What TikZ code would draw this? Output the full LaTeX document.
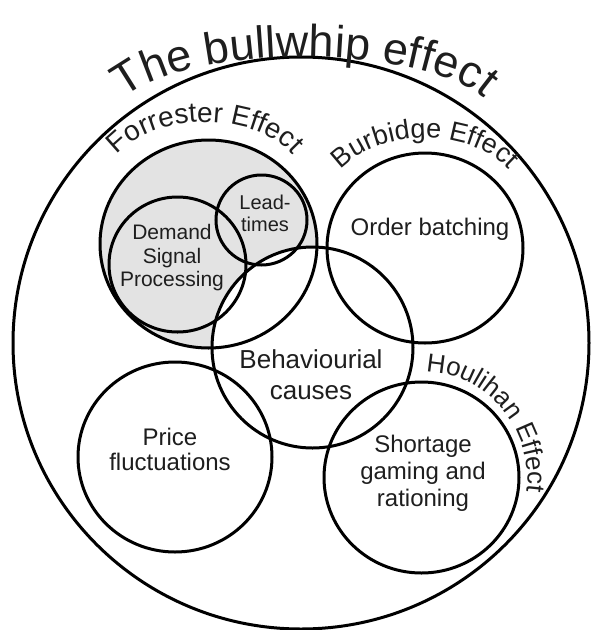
\documentclass[tikz,border=0pt]{standalone}
\usepackage{fontspec}
\setmainfont{Liberation Sans}
\usetikzlibrary{decorations.text}
\definecolor{fillgray}{HTML}{E3E3E3}
\definecolor{ink}{HTML}{1E1E1E}
\begin{document}
\begin{tikzpicture}[x=1pt,y=1pt,
  ring/.style={draw=black, line width=3pt},
  lbl/.style={text=ink, align=center, inner sep=0pt},
  arclbl/.style={decorate, decoration={text along path, text align=center, text color=ink}}]
\useasboundingbox (0,0) rectangle (590,-630);
% centres
\coordinate (outerC) at (301,-343);
\coordinate (forC) at (208.5,-244);
\coordinate (dspC) at (177.5,-264.5);
\coordinate (leadC) at (261.5,-220);
\coordinate (behC) at (312.5,-347.5);
\coordinate (ordC) at (425,-248);
\coordinate (priC) at (175,-457);
\coordinate (shoC) at (421.5,-477.5);
% fills
\fill[fillgray] (forC) ellipse [x radius=108.5pt, y radius=104pt];
\fill[white] (behC) ellipse [x radius=100.5pt, y radius=100.5pt];
% outlines
\draw[ring] (outerC) ellipse [x radius=288pt, y radius=286pt];
\draw[ring] (forC) ellipse [x radius=108.5pt, y radius=104pt];
\draw[ring] (dspC) ellipse [x radius=68.5pt, y radius=67.5pt];
\draw[ring] (leadC) ellipse [x radius=45.5pt, y radius=45pt];
\draw[ring] (behC) ellipse [x radius=100.5pt, y radius=100.5pt];
\draw[ring] (ordC) ellipse [x radius=98pt, y radius=95pt];
\draw[ring] (priC) ellipse [x radius=97pt, y radius=95pt];
\draw[ring] (shoC) ellipse [x radius=97.5pt, y radius=95.5pt];
% inner labels
\node[lbl, font={\fontsize{26}{31}\selectfont}] (behT) at (311,-375) {Behaviourial\\causes};
\node[lbl, font={\fontsize{24}{25}\selectfont}, anchor=base] (ordT) at (430,-235) {Order batching};
\node[lbl, font={\fontsize{21}{23.5}\selectfont}] (dspT) at (172,-258) {Demand\\Signal\\Processing};
\node[lbl, font={\fontsize{20}{22}\selectfont}] (leadT) at (265,-213.7) {Lead-\\times};
\node[lbl, font={\fontsize{24}{25}\selectfont}] (priT) at (170,-449) {Price\\fluctuations};
\node[lbl, font={\fontsize{24}{27}\selectfont}] (shoT) at (423,-473.7) {Shortage\\gaming and\\rationing};
% curved labels
\path[arclbl, decoration={text={|\fontsize{45}{45}\selectfont|The bullwhip effect}}]
  (114.6,-118) arc[start angle=180, end angle=0, x radius=189.4pt, y radius=61pt];
\path[arclbl, decoration={text={|\fontsize{28}{28}\selectfont|Forrester Effect}}]
  (104.8,-185) arc[start angle=180, end angle=0, x radius=100.2pt, y radius=63pt];
\path[arclbl, decoration={text={|\fontsize{27}{27}\selectfont|Burbidge Effect}}]
  (324.7,-207) arc[start angle=180, end angle=0, x radius=100.3pt, y radius=69pt];
\path[arclbl, decoration={text={|\fontsize{26}{26}\selectfont|Houlihan Effect}}]
  ([shift={(100:106pt)}]shoC) arc[start angle=100, end angle=-20, radius=106pt];
\end{tikzpicture}
\end{document}
